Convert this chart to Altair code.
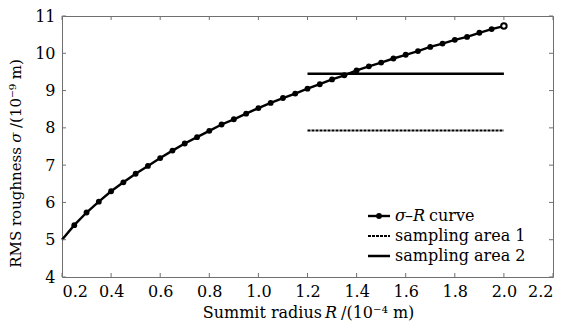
import altair as alt
import pandas as pd

# ---- data ----
R_values = [0.20, 0.25, 0.30, 0.35, 0.40, 0.45, 0.50, 0.55, 0.60, 0.65,
            0.70, 0.75, 0.80, 0.85, 0.90, 0.95, 1.00, 1.05, 1.10, 1.15,
            1.20, 1.25, 1.30, 1.35, 1.40, 1.45, 1.50, 1.55, 1.60, 1.65,
            1.70, 1.75, 1.80, 1.85, 1.90, 1.95, 2.00]
sigma_values = [5.00, 5.39, 5.73, 6.02, 6.30, 6.54, 6.77, 6.98, 7.19, 7.39,
                7.58, 7.75, 7.92, 8.09, 8.23, 8.38, 8.53, 8.67, 8.80, 8.92,
                9.05, 9.17, 9.30, 9.41, 9.54, 9.65, 9.75, 9.86, 9.96, 10.06,
                10.17, 10.26, 10.36, 10.44, 10.55, 10.65, 10.73]
area_R = [1.2, 2.0]
area1_sigma = 7.93
area2_sigma = 9.45
x_ticks = [0.2, 0.4, 0.6, 0.8, 1.0, 1.2, 1.4, 1.6, 1.8, 2.0, 2.2]
y_ticks = [4, 5, 6, 7, 8, 9, 10, 11]
legend_labels = ["sampling area 1", "sampling area 2"]

W, H = 491, 261
FONT = "DejaVu Serif"
FS = 16
GRAY = "#707070"
TL = 4

xs = alt.Scale(domain=[0.2, 2.2], nice=False, zero=False)
ys = alt.Scale(domain=[4, 11], nice=False, zero=False)
xaxis = alt.Axis(values=x_ticks, format=".1f", title=None, labelPadding=6,
                 labelFont=FONT, labelFontSize=FS, labelColor="black",
                 domain=False, ticks=False, grid=False)
yaxis = alt.Axis(values=y_ticks, format="d", title=None, labelPadding=7,
                 labelFont=FONT, labelFontSize=FS, labelColor="black",
                 domain=False, ticks=False, grid=False)


def X(f="R:Q"):
    return alt.X(f, scale=xs, axis=xaxis)


def Y(f="sigma:Q"):
    return alt.Y(f, scale=ys, axis=yaxis)


curve = pd.DataFrame({"R": R_values, "sigma": sigma_values})
markers = curve.iloc[1:-1]
last = curve.iloc[-1:]

line = alt.Chart(curve).mark_line(color="black", strokeWidth=2.4).encode(x=X(), y=Y())
pts = alt.Chart(markers).mark_point(filled=True, shape="circle", size=34,
                                     color="black", opacity=1).encode(x=X(), y=Y())
lastpt = alt.Chart(last).mark_point(shape="circle", size=30, fill="white",
                                     stroke="black", strokeWidth=2, opacity=1).encode(x=X(), y=Y())

area_df = pd.DataFrame({"R": [area_R[0], area_R[0]], "R2": [area_R[1], area_R[1]],
                        "sigma": [area1_sigma, area2_sigma], "name": legend_labels})
area1 = alt.Chart(area_df.iloc[:1]).mark_rule(color="black", strokeWidth=2,
                                              strokeDash=[3, 1]).encode(x=X(), x2="R2:Q", y=Y())
area2 = alt.Chart(area_df.iloc[1:]).mark_rule(color="black", strokeWidth=2.5).encode(
    x=X(), x2="R2:Q", y=Y())

# inward ticks on all four sides
xt = pd.DataFrame({"R": x_ticks})
yt = pd.DataFrame({"sigma": y_ticks})
tick_layers = [
    alt.Chart(xt).mark_rule(color=GRAY).encode(x=X(), y=alt.value(H), y2=alt.value(H - TL)),
    alt.Chart(xt).mark_rule(color=GRAY).encode(x=X(), y=alt.value(0), y2=alt.value(TL)),
    alt.Chart(yt).mark_rule(color=GRAY).encode(y=Y(), x=alt.value(0), x2=alt.value(TL)),
    alt.Chart(yt).mark_rule(color=GRAY).encode(y=Y(), x=alt.value(W), x2=alt.value(W - TL)),
]


def txt(s, x, y, align="left", baseline="middle", angle=0, style="normal", size=FS):
    kw = dict(font=FONT, fontSize=size, align=align, baseline=baseline,
              fontStyle=style, color="black")
    if angle:
        kw["angle"] = angle
    return alt.Chart(pd.DataFrame({"t": [s]})).mark_text(**kw).encode(
        x=alt.value(x), y=alt.value(y), text="t:N")


# axis titles (with italic symbols)
TY = 302
titles = [
    txt("Summit radius", 260, TY, align="right", baseline="alphabetic"),
    txt("R", 269, TY, align="center", baseline="alphabetic", style="italic"),
    txt("/(10\u207b\u2074 m)", 279, TY, align="left", baseline="alphabetic"),
    txt("RMS roughness", -46, 131, align="right", angle=270, size=15),
    txt("\u03c3", -46, 121.5, align="center", angle=270, style="italic", size=15),
    txt("/(10\u207b\u2079 m)", -46, 112, align="left", angle=270, size=15),
]

# legend
LX0, LX1, TX = 306, 328, 333
rows = [200, 220, 240]
one = pd.DataFrame({"a": [0]})
leg = [
    alt.Chart(one).mark_rule(color="black", strokeWidth=2.4).encode(
        x=alt.value(LX0), x2=alt.value(LX1), y=alt.value(rows[0])),
    alt.Chart(one).mark_point(filled=True, shape="circle", size=34,
                              color="black", opacity=1).encode(
        x=alt.value((LX0 + LX1) / 2), y=alt.value(rows[0])),
    alt.Chart(one).mark_rule(color="black", strokeWidth=2, strokeDash=[3, 1]).encode(
        x=alt.value(LX0), x2=alt.value(LX1), y=alt.value(rows[1])),
    alt.Chart(one).mark_rule(color="black", strokeWidth=2.5).encode(
        x=alt.value(LX0), x2=alt.value(LX1), y=alt.value(rows[2])),
    txt("\u03c3", TX, rows[0], style="italic"),
    txt("\u2013", TX + 10, rows[0]),
    txt("R", TX + 18, rows[0], style="italic"),
    txt("curve", TX + 34, rows[0]),
    txt(legend_labels[0], TX, rows[1]),
    txt(legend_labels[1], TX, rows[2]),
]

chart = alt.layer(line, area1, area2, pts, lastpt, *tick_layers, *titles, *leg).properties(
    width=W, height=H,
    autosize=alt.AutoSizeParams(type="none"),
    padding={"left": 54, "top": 8, "right": 3, "bottom": 45},
).configure_view(stroke=GRAY, strokeWidth=1)

chart.save("out.html", embed_options={"renderer": "svg", "actions": False})
